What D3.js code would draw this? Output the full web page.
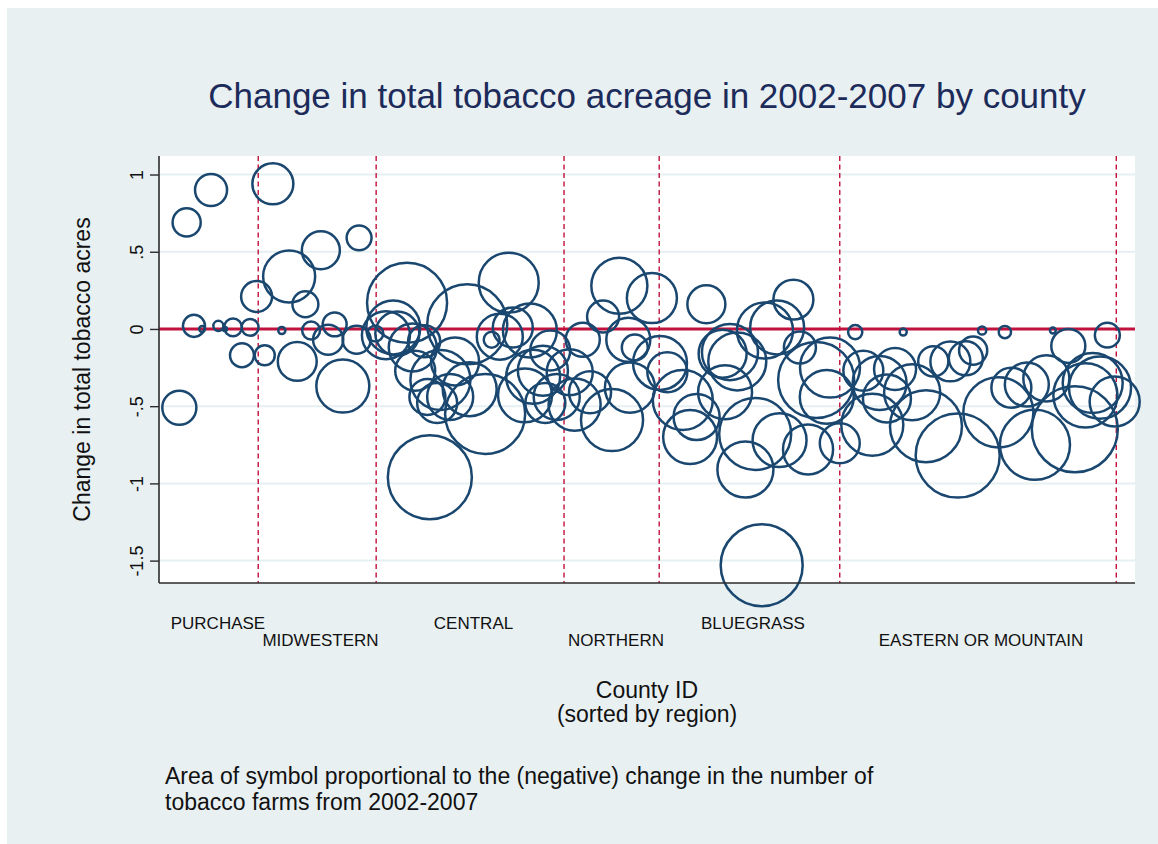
<!DOCTYPE html>
<html>
<head>
<meta charset="utf-8">
<script src="https://cdn.jsdelivr.net/npm/d3@7"></script>
<style>
  html, body { margin: 0; padding: 0; background: #ffffff; }
  svg { display: block; }
  text { font-family: "Liberation Sans", Arial, Helvetica, sans-serif; }
</style>
</head>
<body>
<svg id="chart" width="1158" height="844"></svg>
<script>
// ---------------- data ----------------
const regions = ["PURCHASE", "MIDWESTERN", "CENTRAL", "NORTHERN", "BLUEGRASS", "EASTERN OR MOUNTAIN"];
const regionLabelPos = [7.25, 19.86, 38.67, 56.19, 73.03, 101.07];
const regionLabelRow = [0, 1, 0, 1, 0, 1];
const regionDividers = [12.2, 26.7, 49.8, 61.5, 83.7, 117.7];

const yTicks = [1, 0.5, 0, -0.5, -1, -1.5];
const yTickLabels = ["1", ".5", "0", "-.5", "-1", "-1.5"];

// county position (sorted by region), change in tobacco acres, farms lost (symbol area)
const countyPos = [
  2.5, 3.4, 4.3, 5.3, 6.4, 7.3, 8.1, 9.1, 10.2, 11.2, 12.0,
  13.0, 14.0, 15.1, 16.0, 17.0, 18.0, 18.7, 19.9, 20.8, 21.6, 22.6, 24.3, 24.6, 26.6,
  27.9, 28.8, 29.3, 30.5, 31.2, 31.5, 32.6, 33.0, 33.3, 34.2, 34.6, 35.8, 36.4, 37.9, 38.2,
  40.1, 40.9, 41.9, 43.0, 43.5, 45.0, 45.6, 46.0, 47.2, 47.5, 48.1, 48.9,
  50.5, 51.1, 52.1, 53.0, 54.6, 55.7, 56.6, 57.7, 57.9, 58.5, 60.6,
  61.6, 62.5, 64.4, 65.3, 66.1, 67.3, 69.3, 69.6, 70.2, 71.1, 72.1, 73.3, 74.1, 74.5,
  76.0, 76.3, 78.0, 78.8, 79.8, 80.8, 82.1, 82.5, 83.7,
  85.6, 86.6, 87.7, 88.6, 89.5, 90.5, 91.5, 92.6, 94.3, 95.2, 97.3, 98.2, 99.2, 100.1,
  101.2, 103.2, 104.0, 104.8, 106.7, 107.7, 109.1, 109.9, 111.8, 112.6, 113.9, 114.8,
  115.7, 116.6, 117.5
];
const acreChange = [
  -0.51, 0.69, 0.02, 0.00, 0.90, 0.02, 0.00, 0.01, -0.17, 0.01, 0.21,
  -0.17, 0.94, -0.01, 0.34, -0.21, 0.16, -0.01, 0.51, -0.07, 0.03, -0.37, -0.07, 0.59, -0.03,
  -0.04, 0.01, -0.03, 0.17, -0.12, -0.27, -0.08, -0.44, -0.96, -0.48, -0.33, -0.44, -0.21, 0.03, -0.39,
  -0.55, -0.07, -0.05, 0.30, 0.01, -0.43, -0.01, -0.31, -0.27, -0.48, -0.14, -0.44,
  -0.28, -0.49, -0.07, -0.41, 0.08, -0.59, 0.28, -0.07, -0.38, -0.12, 0.20,
  -0.22, -0.28, -0.46, -0.70, -0.57, 0.16, -0.16, -0.41, -0.15, -0.21, -0.91, -0.68, -1.53, -0.01,
  0.01, -0.72, 0.19, -0.12, -0.78, -0.33, -0.44, -0.25, -0.74,
  -0.02, -0.27, -0.62, -0.35, -0.45, -0.26, -0.02, -0.41, -0.63, -0.21, -0.21, -0.82, -0.19, -0.14,
  -0.01, -0.54, -0.02, -0.38, -0.36, -0.75, -0.32, -0.01, -0.11, -0.65, -0.43, -0.35,
  -0.38, -0.04, -0.47
];
const farmsLost = [
  69, 47, 29, 2, 61, 6, 1, 19, 34, 17, 57,
  24, 100, 3, 161, 90, 40, 19, 86, 54, 34, 167, 47, 37, 15,
  137, 173, 115, 381, 137, 95, 61, 77, 420, 95, 214, 126, 137, 381, 173,
  381, 15, 126, 214, 95, 173, 173, 173, 149, 95, 95, 126,
  126, 161, 69, 105, 61, 229, 187, 115, 149, 40, 149,
  173, 95, 214, 173, 126, 86, 137, 173, 187, 200, 187, 308, 400, 187,
  173, 173, 95, 61, 149, 344, 173, 214, 95,
  12, 95, 229, 173, 137, 105, 3, 187, 308, 54, 95, 420, 69, 47,
  4, 292, 9, 95, 115, 292, 126, 2, 69, 440, 244, 214,
  229, 37, 149
];

// ---------------- layout ----------------
const W = 1158, H = 844;
const plot = { left: 159, right: 1135, top: 156, bottom: 583 };
const colors = {
  panel: "#e8f0f2",
  grid: "#e6eff1",
  bubble: "#1a476f",
  red: "#c0123c",
  axis: "#2b2b2b",
  title: "#1c2b5a",
  text: "#111111"
};

const svg = d3.select("#chart");

svg.append("rect").attr("x", 0).attr("y", 0).attr("width", W).attr("height", H).attr("fill", "#ffffff");
svg.append("rect").attr("x", 7).attr("y", 8).attr("width", W - 7).attr("height", H - 8).attr("fill", colors.panel);
svg.append("rect")
  .attr("x", plot.left).attr("y", plot.top)
  .attr("width", plot.right - plot.left).attr("height", plot.bottom - plot.top)
  .attr("fill", "#ffffff");

const x = d3.scaleLinear().domain([0, 120]).range([plot.left, plot.right]);
const y = d3.scaleLinear().domain([-1.645, 1.12]).range([plot.bottom, plot.top]);
const r = d3.scaleSqrt().domain([0, 400]).range([0, 41]);

// gridlines
svg.append("g").selectAll("line").data(yTicks).join("line")
  .attr("x1", plot.left).attr("x2", plot.right)
  .attr("y1", d => y(d)).attr("y2", d => y(d))
  .attr("stroke", colors.grid).attr("stroke-width", 2);

// zero line
svg.append("line")
  .attr("x1", plot.left).attr("x2", plot.right)
  .attr("y1", y(0)).attr("y2", y(0))
  .attr("stroke", colors.red).attr("stroke-width", 3);

// region dividers
svg.append("g").selectAll("line").data(regionDividers).join("line")
  .attr("x1", d => x(d)).attr("x2", d => x(d))
  .attr("y1", plot.top).attr("y2", plot.bottom)
  .attr("stroke", colors.red).attr("stroke-width", 1.4)
  .attr("stroke-dasharray", "5,3.5");

// bubbles
const pts = countyPos.map((p, i) => ({ p, v: acreChange[i], s: farmsLost[i] }));
svg.append("g").selectAll("circle").data(pts).join("circle")
  .attr("cx", d => x(d.p))
  .attr("cy", d => y(d.v))
  .attr("r", d => r(d.s))
  .attr("fill", "none")
  .attr("stroke", colors.bubble)
  .attr("stroke-width", 2.5);

// y axis
const yAxis = d3.axisLeft(y).tickValues(yTicks).tickSize(9).tickSizeOuter(0)
  .tickFormat((d, i) => yTickLabels[i]);
const gy = svg.append("g").attr("transform", `translate(${plot.left},0)`).call(yAxis);
gy.select(".domain").attr("stroke", colors.axis).attr("stroke-width", 1.6)
  .attr("d", `M0,${plot.top}V${plot.bottom}`);
gy.selectAll(".tick line").attr("stroke", colors.axis).attr("stroke-width", 1.4);
gy.selectAll(".tick text")
  .attr("x", null).attr("dy", null)
  .attr("transform", "translate(-16,0) rotate(-90)")
  .attr("text-anchor", "middle")
  .attr("fill", colors.text)
  .style("font-size", "18px")
  .style("font-family", "'Liberation Sans', Arial, sans-serif");

// x axis (no ticks)
const xAxis = d3.axisBottom(x).tickValues([]).tickSizeOuter(0);
const gx = svg.append("g").attr("transform", `translate(0,${plot.bottom})`).call(xAxis);
gx.select(".domain").attr("stroke", colors.axis).attr("stroke-width", 1.6)
  .attr("d", `M${plot.left},0H${plot.right}`);

// region labels
svg.append("g").selectAll("text").data(regions).join("text")
  .attr("x", (d, i) => x(regionLabelPos[i]))
  .attr("y", (d, i) => regionLabelRow[i] === 0 ? 629 : 646)
  .attr("text-anchor", "middle")
  .attr("fill", colors.text)
  .style("font-size", "17px")
  .text(d => d);

// title
svg.append("text")
  .attr("x", (plot.left + plot.right) / 2).attr("y", 108)
  .attr("text-anchor", "middle")
  .attr("fill", colors.title)
  .style("font-size", "35px")
  .text("Change in total tobacco acreage in 2002-2007 by county");

// y title
svg.append("text")
  .attr("transform", `translate(90,${(plot.top + plot.bottom) / 2}) rotate(-90)`)
  .attr("text-anchor", "middle")
  .attr("fill", colors.text)
  .style("font-size", "23px")
  .text("Change in total tobacco acres");

// x title
const xt = svg.append("text")
  .attr("text-anchor", "middle")
  .attr("fill", colors.text)
  .style("font-size", "23px");
xt.append("tspan").attr("x", (plot.left + plot.right) / 2).attr("y", 698).text("County ID");
xt.append("tspan").attr("x", (plot.left + plot.right) / 2).attr("y", 722).text("(sorted by region)");

// note
const note = svg.append("text")
  .attr("fill", colors.text)
  .style("font-size", "23px");
note.append("tspan").attr("x", 165).attr("y", 784)
  .text("Area of symbol proportional to the (negative) change in the number of");
note.append("tspan").attr("x", 165).attr("y", 810)
  .text("tobacco farms from 2002-2007");
</script>
</body>
</html>
